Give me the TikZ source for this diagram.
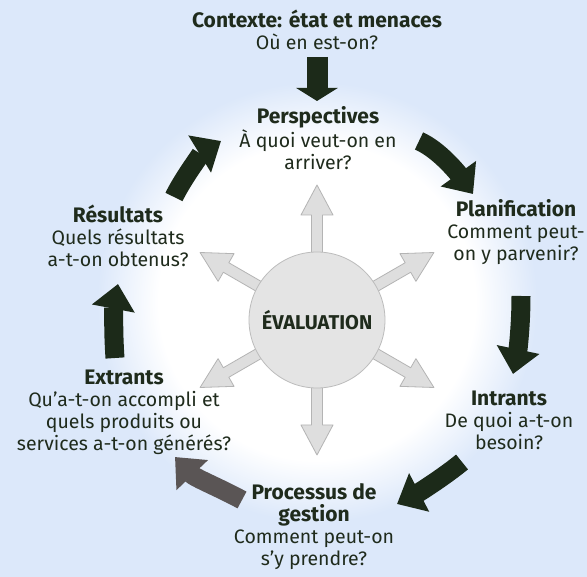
\documentclass[tikz,border=0pt]{standalone}
\usepackage{fontspec}
\setmainfont{Fira Sans}
\usetikzlibrary{arrows.meta, positioning}

\definecolor{bgblue}{HTML}{DCE8FA}
\definecolor{textgreen}{HTML}{1F2B1C}
\definecolor{arrowgreen}{HTML}{1C2A19}
\definecolor{rayfill}{HTML}{DEDEDE}
\definecolor{raydraw}{HTML}{B4B4B4}
\definecolor{evalfill}{HTML}{E4E4E4}
\definecolor{evaldraw}{HTML}{BCBCBC}
\definecolor{procgrey}{HTML}{5A5555}

% bold first line of each stage
\newcommand{\stagetitle}[1]{{\fontsize{21}{22}\selectfont\bfseries #1}}

% white halo fading into the background
\pgfdeclareradialshading{halo}{\pgfpointorigin}{color(0bp)=(white); color(18bp)=(white); color(25bp)=(bgblue); color(50bp)=(bgblue)}

\begin{document}
\begin{tikzpicture}[x=1pt, y=-1pt,
    stage/.style={align=center, text=textgreen, inner sep=0pt,
                  font=\fontsize{19.5}{22}\selectfont},
    flow/.style={draw=arrowgreen, line width=19pt,
                 -{Triangle[width=42pt,length=25pt]}},
    ray/.style={draw=raydraw, fill=rayfill, line width=0.8pt, line join=round}
  ]

  % Background
  \fill[bgblue] (0,0) rectangle (587,577);
  \useasboundingbox (0,0) rectangle (587,577);
  \shade[shading=halo] (317,302) circle (220pt);

  % Grey rays out of the centre
  \foreach \a in {90,30,-30,-90,150,210} {
    \begin{scope}[shift={(317,320)}, rotate=\a]
      \draw[ray] (60,-5.5) -- (105,-5.5) -- (105,-16) -- (135,0)
                 -- (105,16) -- (105,5.5) -- (60,5.5) -- cycle;
    \end{scope}
  }

  % Centre
  \node[circle, draw=evaldraw, fill=evalfill, line width=0.8pt,
        minimum size=136pt, text=textgreen,
        font=\fontsize{20}{22}\selectfont\bfseries] (eval) at (317,320) {ÉVALUATION};

  % Stages
  \node[stage] (ctx) at (317,30) {\stagetitle{Contexte: état et menaces}\\Où en est-on?};
  \node[stage] (per) at (318,138) {\stagetitle{Perspectives}\\À quoi veut-on en\\arriver?};
  \node[stage] (pla) at (516,232) {\stagetitle{Planification}\\Comment peut-\\on y parvenir?};
  \node[stage] (int) at (509,420) {\stagetitle{Intrants}\\De quoi a-t-on\\besoin?};
  \node[stage] (pro) at (314,527) {\stagetitle{Processus de}\\\stagetitle{gestion}\\Comment peut-on\\s'y prendre?};
  \node[stage] (ext) at (124,412) {\stagetitle{Extrants}\\Qu'a-t-on accompli et\\quels produits ou\\services a-t-on générés?};
  \node[stage] (res) at (118,236) {\stagetitle{Résultats}\\Quels résultats\\a-t-on obtenus?};

  % Arrow ends
  \coordinate (ctx-out) at (317,57);
  \coordinate (per-in)  at (317,101);
  \coordinate (res-out) at (174,197);
  \coordinate (per-in2) at (221,141);
  \coordinate (per-out) at (419,141);
  \coordinate (pla-in)  at (473,194);
  \coordinate (pla-out) at (521,296);
  \coordinate (int-in)  at (513,374);
  \coordinate (int-out) at (462,462);
  \coordinate (pro-in)  at (397,504);
  \coordinate (pro-out) at (242,500);
  \coordinate (ext-in)  at (175,457);
  \coordinate (ext-out) at (115,358);
  \coordinate (res-in)  at (118,284);

  % Cycle
  \draw[flow, line width=21pt, -{Triangle[width=41pt,length=13pt]}] (ctx-out) -- (per-in);
  \draw[flow] (res-out) .. controls (183,178) and (203,152) .. (per-in2);
  \draw[flow] (per-out) .. controls (440,150) and (460,176) .. (pla-in);
  \draw[flow] (pla-out) .. controls (521,325) and (518,350) .. (int-in);
  \draw[flow] (int-out) .. controls (445,476) and (420,492) .. (pro-in);
  \draw[flow, draw=procgrey, fill=procgrey] (pro-out) .. controls (220,488) and (195,478) .. (ext-in);
  \draw[flow] (ext-out) .. controls (113,330) and (114,305) .. (res-in);
\end{tikzpicture}
\end{document}
